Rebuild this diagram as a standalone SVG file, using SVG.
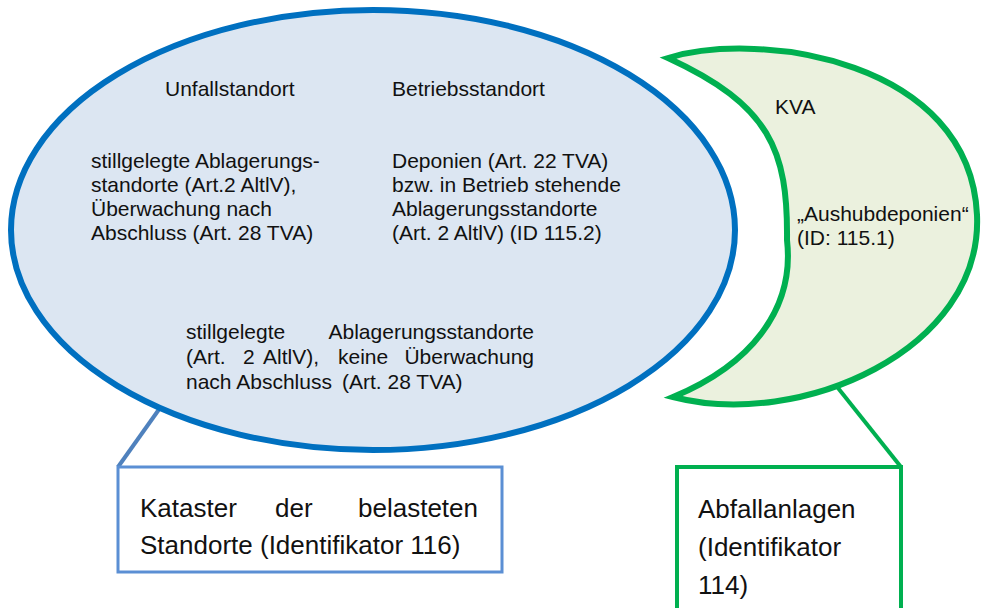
<svg xmlns="http://www.w3.org/2000/svg" width="981" height="608" viewBox="0 0 981 608">
<style>
text{font-family:"Liberation Sans",Arial,sans-serif;fill:#111;}
.s{font-size:21px;}
.b{font-size:26px;}
</style>
<rect width="981" height="608" fill="#ffffff"/>
<g id="connectors">
<line x1="160" y1="408" x2="118" y2="467" stroke="#4F81BD" stroke-width="4"/>
<line x1="838" y1="388" x2="901" y2="467" stroke="#00B050" stroke-width="4"/>
</g>
<g id="belastete-standorte">
<ellipse cx="373" cy="230" rx="362" ry="220" fill="#DCE6F2" stroke="#0070C0" stroke-width="6"/>
<text class="s" x="165" y="96">Unfallstandort</text>
<text class="s" x="392" y="96">Betriebsstandort</text>
<text class="s" x="91"><tspan x="91" y="168">stillgelegte Ablagerungs-</tspan><tspan x="91" y="192">standorte (Art.2 AltlV),</tspan><tspan x="91" y="216">Überwachung nach</tspan><tspan x="91" y="240">Abschluss (Art. 28 TVA)</tspan></text>
<text class="s" x="392"><tspan x="392" y="168">Deponien (Art. 22 TVA)</tspan><tspan x="392" y="192">bzw. in Betrieb stehende</tspan><tspan x="392" y="216">Ablagerungsstandorte</tspan><tspan x="392" y="240">(Art. 2 AltlV) (ID 115.2)</tspan></text>
<text class="s" x="186" y="339">stillgelegte</text>
<text class="s" x="534" y="339" text-anchor="end">Ablagerungsstandorte</text>
<text class="s" x="186" y="364">(Art.</text>
<text class="s" x="243" y="364">2</text>
<text class="s" x="263" y="364">AltlV),</text>
<text class="s" x="338" y="364">keine</text>
<text class="s" x="534" y="364" text-anchor="end">Überwachung</text>
<text class="s" x="186" y="389">nach Abschluss</text>
<text class="s" x="342" y="389">(Art. 28 TVA)</text>
</g>
<g id="abfallanlagen-bereich">
<path d="M668,58 C760,30 970,60 977,215 C983,350 800,430 673,397 C750,365 795,310 787,240 C788,150 770,105 668,58 Z" fill="#EBF1DE" stroke="#00B050" stroke-width="6" stroke-linejoin="miter"/>
<text class="s" x="775" y="114">KVA</text>
<text class="s" x="797" y="221">„Aushubdeponien“</text>
<text class="s" x="797" y="245">(ID: 115.1)</text>
</g>
<g id="kataster">
<rect x="118" y="467" width="384" height="105" fill="#ffffff" stroke="#5B8FD4" stroke-width="3"/>
<text class="b" x="140" y="517">Kataster</text>
<text class="b" x="275" y="517">der</text>
<text class="b" x="478" y="517" text-anchor="end">belasteten</text>
<text class="b" x="140" y="554">Standorte (Identifikator 116)</text>
</g>
<g id="abfallanlagen">
<rect x="677" y="467" width="224" height="160" fill="#ffffff" stroke="#00B050" stroke-width="4"/>
<text class="b" x="698" y="518">Abfallanlagen</text>
<text class="b" x="698" y="556">(Identifikator</text>
<text class="b" x="698" y="594">114)</text>
</g>
</svg>
